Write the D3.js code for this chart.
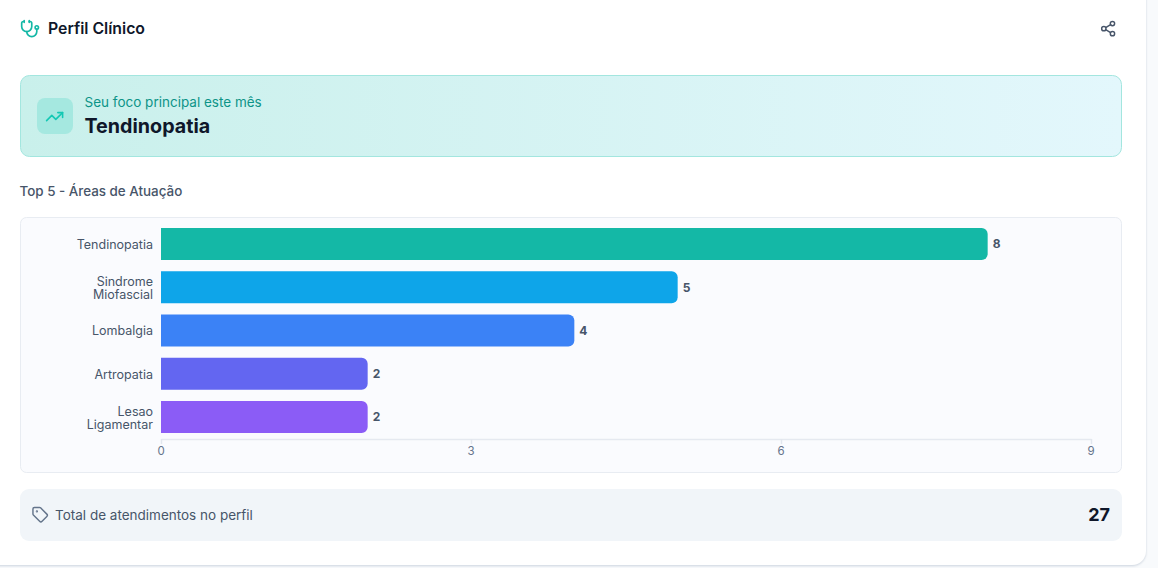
<!DOCTYPE html>
<html><head><meta charset="utf-8">
<script src="https://cdn.jsdelivr.net/npm/d3@7"></script>
<style>
html,body{margin:0;padding:0;background:#f8fafc;overflow:hidden}
svg{display:block}
text{font-family:Inter,"Noto Sans",sans-serif}
</style></head><body><svg id="c" width="1158" height="568"></svg>
<script>
const categories=[["Tendinopatia"],["Sindrome","Miofascial"],["Lombalgia"],["Artropatia"],["Lesao","Ligamentar"]];
const values=[8,5,4,2,2];
const colors=["#14b8a6","#0ea5e9","#3b82f6","#6366f1","#8b5cf6"];
const ticks=[0,3,6,9];
const title="Perfil Clínico",focusLabel="Seu foco principal este mês",focusValue="Tendinopatia",
 sectionTitle="Top 5 - Áreas de Atuação",totalLabel="Total de atendimentos no perfil",totalValue=27;

const svg=d3.select("#c");
const defs=svg.append("defs");
const g=defs.append("linearGradient").attr("id","bn");
g.append("stop").attr("offset",0).attr("stop-color","#c9f0eb");
g.append("stop").attr("offset",1).attr("stop-color","#e3f7fc");
const f=defs.append("filter").attr("id","sh").attr("x","-5%").attr("y","-5%").attr("width","110%").attr("height","110%");
f.append("feDropShadow").attr("dx",0).attr("dy",1).attr("stdDeviation",1.2).attr("flood-color","#94a3b8").attr("flood-opacity",.45);

svg.append("rect").attr("x",-30).attr("y",-30).attr("width",1176).attr("height",595).attr("rx",14).attr("fill","#fff").attr("filter","url(#sh)");

// header
const icon=(x,y,s,stroke,paths,sw=2)=>{const n=svg.append("g").attr("transform",`translate(${x},${y}) scale(${s})`).attr("fill","none").attr("stroke",stroke).attr("stroke-width",sw).attr("stroke-linecap","round").attr("stroke-linejoin","round");
 paths.forEach(d=>n.append("path").attr("d",d));return n;};
icon(20,19,.84,"#14b8a6",["M11 2v2","M5 2v2","M5 3H4a2 2 0 0 0-2 2v4a6 6 0 0 0 12 0V5a2 2 0 0 0-2-2h-1","M8 15a6 6 0 0 0 12 0v-3"]).append("circle").attr("cx",20).attr("cy",10).attr("r",2);
svg.append("text").attr("x",48).attr("y",34).attr("font-size",15.8).attr("font-weight",600).attr("fill","#0f172a").text(title);
const sh=icon(1099.5,20,.72,"#475569",["M8.59 13.51l6.83 3.98","M15.41 6.51l-6.82 3.98"]);
[[18,5],[6,12],[18,19]].forEach(p=>sh.append("circle").attr("cx",p[0]).attr("cy",p[1]).attr("r",3));

// banner
svg.append("rect").attr("x",20.5).attr("y",75.5).attr("width",1101).attr("height",81).attr("rx",9).attr("fill","url(#bn)").attr("stroke","#a3e6df");
svg.append("rect").attr("x",37).attr("y",98).attr("width",36).attr("height",36).attr("rx",8).attr("fill","#a5e8e0");
icon(45,107,.8,"#14c8b4",["M22 7l-8.5 8.5-5-5L2 17","M16 7h6v6"]);
svg.append("text").attr("x",84.5).attr("y",107).attr("font-size",13.5).attr("fill","#0d9488").text(focusLabel);
svg.append("text").attr("x",84.5).attr("y",133).attr("font-size",19.7).attr("font-weight",700).attr("fill","#0f172a").text(focusValue);
svg.append("text").attr("x",19.5).attr("y",196).attr("font-size",13.4).attr("font-weight",500).attr("fill","#475569").text(sectionTitle);

// chart
svg.append("rect").attr("x",20.5).attr("y",217.5).attr("width",1101).attr("height",255).attr("rx",6).attr("fill","#fafbfe").attr("stroke","#e8ecf2");
const x=d3.scaleLinear().domain([0,9]).range([161,1091]);
const y=d3.scaleBand().domain(d3.range(values.length)).range([222.5,438.5]).paddingInner(.26).paddingOuter(.13);
const bar=svg.append("g");
const h=y.bandwidth(),r=6;
bar.selectAll("path").data(values).join("path").attr("fill",(d,i)=>colors[i])
 .attr("d",(d,i)=>{const p=d3.path(),x0=x(0),x1=x(d),t=y(i),b=t+h;p.moveTo(x0,t);p.lineTo(x1-r,t);p.arcTo(x1,t,x1,t+r,r);p.lineTo(x1,b-r);p.arcTo(x1,b,x1-r,b,r);p.lineTo(x0,b);p.closePath();return p.toString();});
bar.selectAll("text.v").data(values).join("text").attr("class","v").attr("x",d=>x(d)+5).attr("y",(d,i)=>y(i)+h/2+4.3).attr("font-size",12).attr("font-weight",700).attr("fill","#475569").text(d=>d);
const lab=svg.append("g").selectAll("text").data(categories).join("text").attr("text-anchor","end").attr("font-size",12.5).attr("fill","#475569");
lab.each(function(ls,i){const c=y(i)+h/2;d3.select(this).selectAll("tspan").data(ls).join("tspan").attr("x",153).attr("y",(l,j)=>c+(ls.length>1?5.5:4.8)+(j-(ls.length-1)/2)*13).text(l=>l);});

const ax=svg.append("g").attr("transform","translate(0,439)").call(d3.axisBottom(x).tickValues(ticks).tickSize(5).tickPadding(3).tickSizeOuter(0));
ax.select(".domain").attr("stroke","#e5e9f0").attr("stroke-width",1.5);
ax.selectAll("line").attr("stroke","#e2e7ee").attr("stroke-width",1.5);
ax.selectAll("text").attr("font-size",11.5).attr("fill","#64748b").attr("dx",-.5).style("font-family","Inter");

// footer
svg.append("rect").attr("x",20).attr("y",489).attr("width",1102).attr("height",52).attr("rx",9).attr("fill","#f1f5f9");
const tag=icon(31.5,506,.72,"#64748b",["M12.59 2.59A2 2 0 0 0 11.17 2H4a2 2 0 0 0-2 2v7.17a2 2 0 0 0 .59 1.42l8.7 8.7a2.43 2.43 0 0 0 3.42 0l6.58-6.58a2.43 2.43 0 0 0 0-3.42z"]);
tag.append("circle").attr("cx",7.5).attr("cy",7.5).attr("r",.6);
svg.append("text").attr("x",55).attr("y",520).attr("font-size",13.5).attr("fill","#475569").text(totalLabel);
svg.append("text").attr("x",1110).attr("y",521).attr("text-anchor","end").attr("font-size",18).attr("font-weight",700).attr("fill","#0f172a").text(totalValue);
</script></body></html>
